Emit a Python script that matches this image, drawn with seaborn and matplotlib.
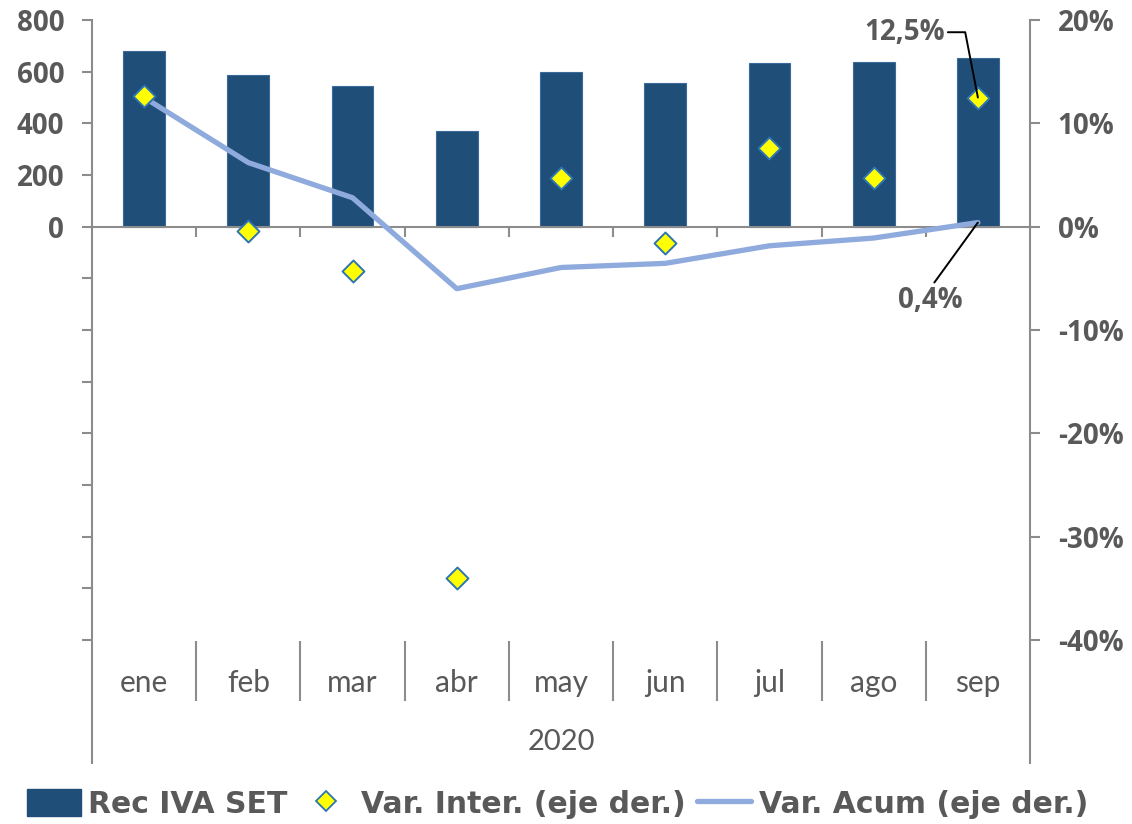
import numpy as np
import pandas as pd
import matplotlib
matplotlib.use('Agg')
import matplotlib.pyplot as plt
import matplotlib.transforms as mtransforms
from matplotlib.patches import Patch
from matplotlib.lines import Line2D
import seaborn as sns

# ------------------------------------------------------------------
# Data
# ------------------------------------------------------------------
meses = ['ene', 'feb', 'mar', 'abr', 'may', 'jun', 'jul', 'ago', 'sep']
anio = '2020'
rec_iva = [681, 588, 543, 369, 598, 556, 633, 636, 652]          # left axis
var_inter = [12.6, -0.4, -4.3, -34.0, 4.7, -1.6, 7.6, 4.7, 12.5]  # %, right axis
var_acum = [12.5, 6.2, 2.8, -6.0, -3.95, -3.55, -1.85, -1.1, 0.4]  # %, right axis

left_ticks = list(range(-1600, 801, 200))
right_ticks = list(range(-40, 21, 10))

df = pd.DataFrame({'mes': meses, 'rec': rec_iva, 'inter': var_inter,
                   'acum': var_acum, 'pos': np.arange(len(meses))})

# ------------------------------------------------------------------
# Styles
# ------------------------------------------------------------------
sns.set_style('white')
plt.rcParams['font.family'] = ['Lato', 'DejaVu Sans']

bar_color = '#1F4E79'
line_color = '#8FAADC'
grey_text = '#595959'
grey_axis = '#8C8C8C'
bold_font = ['Open Sans', 'DejaVu Sans']

fig = plt.figure(figsize=(11.32, 8.24), dpi=100)
ax = fig.add_axes([92 / 1132, 1 - 763 / 824, (1030 - 92) / 1132, (763 - 20) / 824])

# Bars
sns.barplot(data=df, x='pos', y='rec', ax=ax, color=bar_color, width=0.4,
            saturation=1, edgecolor='#3A6A9A', linewidth=0.8, native_scale=True)
ax.set_xlim(-0.5, 8.5)
ax.set_ylim(-2076, 800)

# Right axis
ax2 = ax.twinx()
sns.lineplot(data=df, x='pos', y='acum', ax=ax2, color=line_color, linewidth=3.8,
             zorder=2)
sns.scatterplot(data=df, x='pos', y='inter', ax=ax2, marker='D', s=125,
                color='#FFFF00', edgecolor='#2E75B6', linewidth=1.4, zorder=3)
ax2.set_ylim(-51.9, 20)

# Spines
for a in (ax, ax2):
    a.spines['top'].set_visible(False)
    a.spines['left'].set_color(grey_axis)
    a.spines['right'].set_color(grey_axis)
    a.spines['left'].set_linewidth(1.5)
    a.spines['right'].set_linewidth(1.5)
    a.set_xlabel('')
    a.set_ylabel('')
ax.spines['right'].set_visible(False)
ax2.spines['left'].set_visible(False)
ax2.spines['bottom'].set_visible(False)
ax.spines['bottom'].set_position(('data', 0))
ax.spines['bottom'].set_color(grey_axis)
ax.spines['bottom'].set_linewidth(1.5)

# Left y ticks
ax.set_yticks(left_ticks)
ax.set_yticklabels([str(v) if v >= 0 else '' for v in left_ticks])
ax.tick_params(axis='y', direction='out', length=7, width=1.5, color=grey_axis,
               labelcolor=grey_text, pad=13, left=True)
for t in ax.get_yticklabels():
    t.set_fontfamily(bold_font)
    t.set_fontweight('bold')
    t.set_fontsize(20)

# Right y ticks
ax2.set_yticks(right_ticks)
ax2.set_yticklabels([f'{v}%' for v in right_ticks])
ax2.tick_params(axis='y', direction='out', length=7, width=1.5, color=grey_axis,
                labelcolor=grey_text, pad=13, right=True)
for t in ax2.get_yticklabels():
    t.set_fontfamily(bold_font)
    t.set_fontweight('bold')
    t.set_fontsize(20)

# X axis: ticks at category boundaries on the zero line
bounds = np.arange(0.5, len(meses) - 1, 1.0)
ax.set_xticks(bounds)
ax.set_xticklabels([''] * len(bounds))
ax.tick_params(axis='x', direction='out', length=7, width=1.5, color=grey_axis,
               bottom=True)
ax2.tick_params(axis='x', bottom=False, labelbottom=False)

# Category labels, separators and year label below the plot
trans = mtransforms.blended_transform_factory(ax.transData, ax.transAxes)
for i, m in enumerate(meses):
    ax.text(i, 0.1077, m, transform=trans, ha='center', va='center',
            fontsize=21.5, color=grey_text)
ax.vlines(bounds, 0.0834, 0.1642, transform=trans, color=grey_axis,
          linewidth=1.5, clip_on=False)
ax.text((len(meses) - 1) / 2, 0.028, anio, transform=trans, ha='center',
        va='center', fontsize=21, color=grey_text)

# Data labels
lbl_kw = dict(fontsize=20, fontweight='bold', family=bold_font, color=grey_text,
              textcoords='offset points', ha='center', va='center')
ax2.annotate(f'{var_inter[-1]:.1f}%'.replace('.', ','), xy=(8, var_inter[-1]),
             xytext=(-53, 47),
             arrowprops=dict(arrowstyle='-', color='black', lw=1.4,
                             shrinkA=0, shrinkB=0, relpos=(1.0, 0.5),
                             connectionstyle='angle,angleA=0,angleB=101,rad=0'),
             **lbl_kw)
ax2.annotate(f'{var_acum[-1]:.1f}%'.replace('.', ','), xy=(8, var_acum[-1]),
             xytext=(-34, -56),
             arrowprops=dict(arrowstyle='-', color='black', lw=1.4,
                             shrinkA=0, shrinkB=0, relpos=(0.52, 1.0)),
             **lbl_kw)

# Legend
handles = [Patch(facecolor=bar_color, edgecolor=bar_color),
           Line2D([], [], marker='D', linestyle='none', markersize=10,
                  markerfacecolor='#FFFF00', markeredgecolor='#2E75B6',
                  markeredgewidth=1.3),
           Line2D([], [], color=line_color, linewidth=3.8)]
labels = ['Rec IVA SET', 'Var. Inter. (eje der.)', 'Var. Acum (eje der.)']
leg = fig.legend(handles, labels, loc='center', bbox_to_anchor=(0.4925, 0.024),
                 ncol=3, frameon=False, handlelength=1.8, handleheight=1.0,
                 handletextpad=0.25, columnspacing=0.4, borderaxespad=0,
                 prop=dict(family='DejaVu Sans', weight='bold', size=21.5))
for t in leg.get_texts():
    t.set_color(grey_text)

fig.savefig('out.png', dpi=100)
